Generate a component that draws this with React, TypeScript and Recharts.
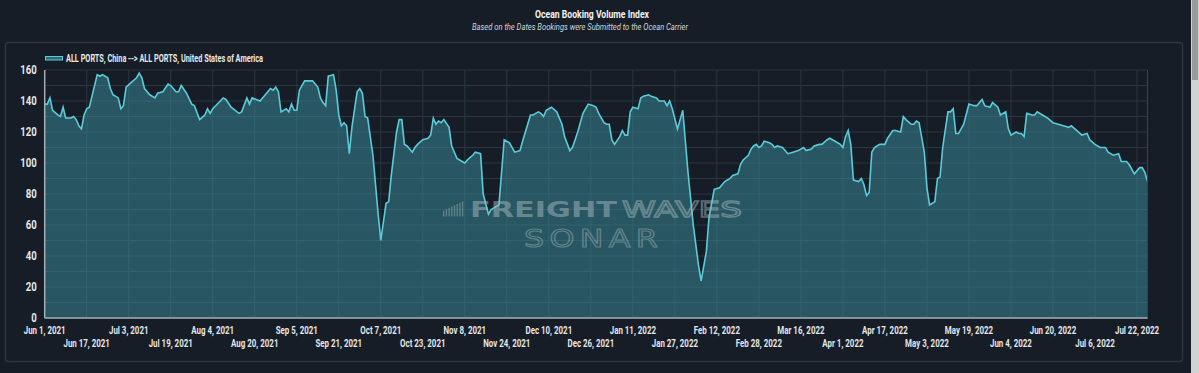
import { AreaChart, Area, XAxis, YAxis, CartesianGrid, ReferenceLine } from 'recharts'

// day offset from Jun 1, 2021
const days = [
  0, 1, 2, 3, 5, 6, 7, 8, 10, 11, 12, 13, 14, 15, 16, 17, 18, 20, 21, 22, 23, 24, 25, 26, 28, 29, 30, 31, 33, 35,
  36, 37, 38, 40, 42, 43, 45, 47, 48, 50, 51, 52, 54, 56, 57, 59, 61, 62, 63, 64, 68, 69, 71, 74, 75, 77, 78, 79, 82, 84,
  86, 87, 88, 89, 90, 92, 93, 94, 95, 96, 97, 99, 101, 102, 104, 105, 106, 107, 108, 110, 111, 112, 113, 114, 115, 116, 117, 119, 120, 121,
  122, 123, 125, 127, 128, 130, 131, 132, 134, 135, 136, 137, 138, 140, 141, 142, 144, 146, 147, 148, 149, 150, 151, 152, 154, 155, 157, 159, 160, 161,
  163, 164, 166, 167, 169, 170, 172, 173, 175, 177, 179, 181, 182, 185, 186, 188, 189, 190, 191, 193, 195, 197, 198, 200, 201, 203, 205, 207, 209, 210,
  211, 213, 214, 215, 216, 217, 219, 220, 221, 222, 223, 224, 226, 227, 228, 230, 231, 233, 234, 236, 237, 238, 239, 241, 242, 243, 245, 247, 249, 250,
  252, 253, 255, 257, 259, 261, 262, 264, 265, 266, 268, 269, 270, 271, 272, 273, 274, 276, 277, 278, 279, 281, 283, 285, 287, 289, 290, 292, 293, 295,
  296, 298, 299, 301, 303, 304, 305, 306, 307, 308, 310, 311, 312, 313, 314, 315, 316, 318, 320, 321, 323, 324, 326, 327, 328, 330, 331, 332, 333, 335,
  336, 337, 339, 340, 341, 342, 344, 345, 346, 347, 348, 350, 352, 354, 355, 356, 357, 358, 360, 361, 363, 364, 366, 367, 368, 370, 371, 372, 373, 374,
  376, 377, 378, 380, 382, 384, 386, 388, 390, 391, 393, 395, 397, 398, 400, 402, 404, 405, 407, 409, 410, 412, 413, 415, 417, 418, 419, 420,
]

const bookingIndex = [
  138, 138, 142, 134, 131, 130, 136, 129, 129, 130, 128, 124, 122, 131, 135, 136, 143, 157, 156, 157, 156, 155, 148, 144, 142, 135, 137, 149, 152, 155,
  158, 155, 148, 144, 142, 145, 146, 151, 150, 146, 146, 150, 145, 138, 137, 128, 131, 135, 132, 135, 142, 141, 136, 132, 133, 142, 138, 142, 140, 144,
  148, 147, 149, 146, 133, 135, 133, 138, 134, 134, 147, 153, 153, 153, 149, 142, 139, 137, 156, 157, 147, 131, 124, 126, 124, 106, 123, 146, 148, 145,
  130, 129, 105, 67, 50, 74, 75, 92, 120, 128, 128, 112, 111, 107, 110, 112, 115, 116, 118, 129, 125, 127, 126, 128, 123, 111, 103, 101, 100, 102,
  105, 107, 106, 80, 67, 70, 72, 73, 115, 113, 107, 108, 114, 131, 131, 133, 132, 130, 134, 136, 133, 125, 117, 108, 110, 120, 132, 138, 137, 136,
  132, 126, 125, 125, 115, 112, 117, 121, 118, 118, 133, 136, 135, 142, 143, 144, 143, 142, 140, 140, 137, 140, 135, 122, 128, 134, 94, 60, 34, 24,
  43, 65, 83, 84, 88, 90, 92, 93, 99, 102, 105, 109, 111, 112, 110, 111, 114, 113, 112, 110, 111, 110, 106, 107, 108, 110, 108, 109, 111, 112,
  112, 115, 116, 114, 112, 110, 117, 121, 112, 89, 88, 90, 86, 79, 81, 107, 110, 112, 112, 116, 121, 121, 120, 130, 128, 125, 125, 127, 126, 107,
  84, 73, 75, 90, 91, 110, 133, 133, 135, 119, 119, 125, 138, 137, 137, 139, 141, 137, 136, 139, 136, 131, 133, 122, 118, 120, 119, 119, 117, 132,
  131, 131, 133, 131, 129, 126, 125, 124, 123, 124, 121, 118, 119, 115, 112, 110, 110, 107, 105, 106, 101, 101, 99, 93, 97, 97, 94, 88,
]

const tickDays = [0, 16, 32, 48, 64, 80, 96, 112, 128, 144, 160, 176, 192, 208, 224, 240, 256, 272, 288, 304, 320, 336, 352, 368, 384, 400, 416]
const tickLabels = [
  'Jun 1, 2021', 'Jun 17, 2021', 'Jul 3, 2021', 'Jul 19, 2021', 'Aug 4, 2021', 'Aug 20, 2021', 'Sep 5, 2021',
  'Sep 21, 2021', 'Oct 7, 2021', 'Oct 23, 2021', 'Nov 8, 2021', 'Nov 24, 2021', 'Dec 10, 2021', 'Dec 26, 2021',
  'Jan 11, 2022', 'Jan 27, 2022', 'Feb 12, 2022', 'Feb 28, 2022', 'Mar 16, 2022', 'Apr 1, 2022', 'Apr 17, 2022',
  'May 3, 2022', 'May 19, 2022', 'Jun 4, 2022', 'Jun 20, 2022', 'Jul 6, 2022', 'Jul 22, 2022',
]
const yTicks = [0, 10, 20, 30, 40, 50, 60, 70, 80, 90, 100, 110, 120, 130, 140, 150, 160]

const seriesName = 'ALL PORTS, China --> ALL PORTS, United States of America'

const data = days.map((d, i) => ({ day: d, value: bookingIndex[i] }))

const BG = '#161d26'
const LINE = '#5ccbd8'

const XTick = ({ x, y, payload }: any) => {
  const i = tickDays.indexOf(payload.value)
  const row = i % 2
  return (
    <text
      transform={`translate(${x},${y + 8 + row * 13}) scale(0.72,1)`}
      textAnchor="middle"
      fill="#e4e6e8"
      fontFamily="Roboto"
      fontWeight={700}
      fontSize={11}
    >
      {tickLabels[i]}
    </text>
  )
}

const YTick = ({ x, y, payload }: any) => {
  if (payload.value % 20 !== 0) return <g />
  return (
    <text
      transform={`translate(${x},${y + 4}) scale(0.8,1)`}
      textAnchor="end"
      fill="#e4e6e8"
      fontFamily="Roboto"
      fontWeight={700}
      fontSize={12}
    >
      {payload.value}
    </text>
  )
}

export default function App() {
  return (
    <div style={{ position: 'fixed', left: 0, top: 0, width: 1199, height: 373, background: BG, overflow: 'hidden' }}>
      <svg width={1199} height={373} style={{ position: 'absolute', left: 0, top: 0 }}>
        <rect x={5.5} y={42.5} width={1177} height={319} rx={3} fill="none" stroke="#2c3640" strokeWidth={1.5} />
        <text x={592} y={18} textAnchor="middle" fill="#f2f2f2" fontFamily="Roboto" fontWeight={700} fontSize={11.5} textLength={114} lengthAdjust="spacingAndGlyphs">
          Ocean Booking Volume Index
        </text>
        <text x={580} y={29.5} textAnchor="middle" fill="#d4d6d8" fontFamily="Roboto" fontStyle="italic" fontSize={9.5} textLength={216} lengthAdjust="spacingAndGlyphs">
          Based on the Dates Bookings were Submitted to the Ocean Carrier
        </text>
        {/* legend */}
        <rect x={45.5} y={56.5} width={17} height={3.5} fill="#2f6b77" stroke={LINE} strokeWidth={1} />
        <text x={66} y={61.5} fill="#e8e8e8" fontFamily="Roboto" fontWeight={700} fontSize={10} textLength={197} lengthAdjust="spacingAndGlyphs">
          {seriesName}
        </text>
        {/* scrollbar */}
        <rect x={1191} y={0} width={8} height={373} fill="#d2d2d2" />
        <rect x={1192} y={0} width={6} height={80} fill="#9a9a9a" />
      </svg>

      <div style={{ position: 'absolute', left: 0, top: 0 }}>
        <AreaChart width={1199} height={373} data={data} margin={{ top: 70, right: 51.5, bottom: 0, left: 4.7 }}>
          <CartesianGrid stroke="#2a3640" strokeWidth={1} />
          <XAxis
            dataKey="day"
            type="number"
            domain={[0, 420]}
            ticks={tickDays}
            interval={0}
            height={55}
            tick={<XTick />}
            tickLine={false}
            axisLine={{ stroke: '#a4adb3', strokeWidth: 1.5 }}
          />
          <YAxis
            domain={[0, 160]}
            ticks={yTicks}
            interval={0}
            width={40}
            tick={<YTick />}
            tickLine={false}
            axisLine={{ stroke: '#a4adb3', strokeWidth: 1.5 }}
          />
          <ReferenceLine x={420} stroke="#38434d" strokeWidth={1} />
          <Area
            type="linear"
            dataKey="value"
            name={seriesName}
            stroke={LINE}
            strokeWidth={1.6}
            fill="#3a8f9e"
            fillOpacity={0.5}
            isAnimationActive={false}
            dot={false}
            activeDot={false}
          />
        </AreaChart>
      </div>

      {/* watermark */}
      <svg width={1199} height={373} style={{ position: 'absolute', left: 0, top: 0, pointerEvents: 'none' }}>
        <g fill="#9fb3b9" opacity={0.45}>
          {[0, 1, 2, 3, 4, 5, 6, 7].map((k) => (
            <rect key={k} x={443 + k * 2.7} y={216.5 - (6 + k * 1.3)} width={1.4} height={6 + k * 1.3} />
          ))}
        </g>
        <text x={470} y={216.5} fill="#a5b8be" opacity={0.5} fontFamily="DejaVu Sans" fontWeight={700} fontSize={20.5} textLength={147} lengthAdjust="spacingAndGlyphs">
          FREIGHT
        </text>
        <text x={622} y={216.5} fill="none" stroke="#a5b8be" strokeWidth={1.3} opacity={0.5} fontFamily="DejaVu Sans" fontSize={20.5} textLength={120} lengthAdjust="spacingAndGlyphs">
          WAVES
        </text>
        <text x={524} y={247} fill="none" stroke="#a5b8be" strokeWidth={1.1} opacity={0.45} fontFamily="DejaVu Sans" fontSize={24} letterSpacing={4} textLength={139} lengthAdjust="spacingAndGlyphs">
          SONAR
        </text>
      </svg>
    </div>
  )
}
